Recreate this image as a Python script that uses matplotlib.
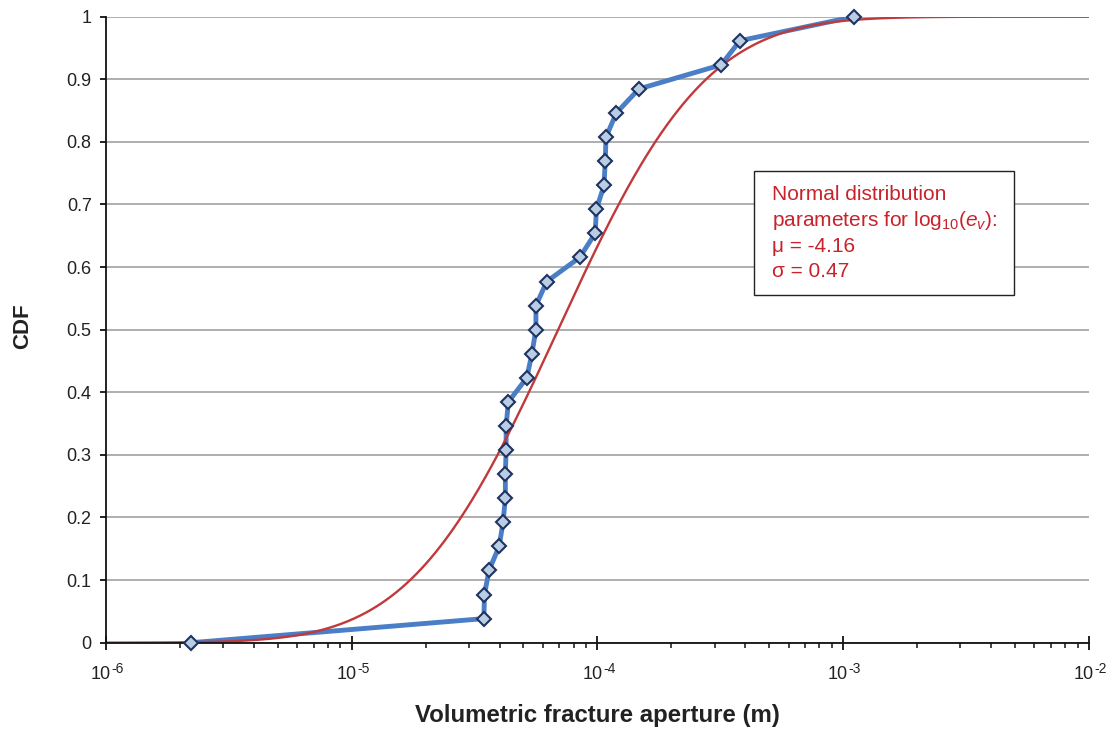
import math
import numpy as np
import matplotlib
matplotlib.use("Agg")
import matplotlib.pyplot as plt
from matplotlib.patches import Rectangle
from matplotlib.transforms import offset_copy
from matplotlib.ticker import FixedLocator, FixedFormatter, LogLocator, NullFormatter

plt.rcParams['font.family'] = ['Liberation Sans', 'DejaVu Sans']
plt.rcParams['mathtext.fontset'] = 'custom'
plt.rcParams['mathtext.rm'] = 'Liberation Sans'
plt.rcParams['mathtext.it'] = 'Liberation Sans:italic'
plt.rcParams['mathtext.bf'] = 'Liberation Sans:bold'
plt.rcParams['mathtext.default'] = 'regular'

# Measured volumetric fracture apertures (m), sorted, with empirical CDF values
aperture = [2.22e-6, 3.45e-5, 3.47e-5, 3.62e-5, 3.98e-5, 4.13e-5, 4.22e-5,
            4.22e-5, 4.25e-5, 4.25e-5, 4.34e-5, 5.16e-5, 5.41e-5, 5.62e-5,
            5.62e-5, 6.22e-5, 8.47e-5, 9.79e-5, 9.91e-5, 1.064e-4, 1.076e-4,
            1.084e-4, 1.194e-4, 1.476e-4, 3.19e-4, 3.80e-4, 1.107e-3]
cdf = [i / 26 for i in range(27)]

# Fitted normal distribution for log10(e_v)
mu = -4.16
sigma = 0.47

y_ticks = [0, 0.1, 0.2, 0.3, 0.4, 0.5, 0.6, 0.7, 0.8, 0.9, 1.0]
y_labels = ["0", "0.1", "0.2", "0.3", "0.4", "0.5", "0.6", "0.7", "0.8", "0.9", "1"]
x_ticks = [1e-6, 1e-5, 1e-4, 1e-3, 1e-2]
x_exponents = ["-6", "-5", "-4", "-3", "-2"]

fig = plt.figure(figsize=(11.15, 7.31), dpi=100)
ax = fig.add_axes([0.0951, 0.1208, 0.8814, 0.8564])

# fitted lognormal CDF across the full axis range
xs = np.logspace(-6, -2, 600)
fit = np.array([0.5 * (1 + math.erf((math.log10(v) - mu) / (sigma * math.sqrt(2)))) for v in xs])

ax.plot(aperture, cdf, color='#4A7EC6', lw=3.5, zorder=3, solid_joinstyle='round')
ax.plot(xs, fit, color='#C0393B', lw=1.7, zorder=4)
ax.plot(aperture, cdf, ls='none', marker='D', ms=7.0, mfc='#B9CDE5', mec='#1F3360',
        mew=1.5, zorder=7, clip_on=False)

ax.set_xscale('log')
ax.set_xlim(1e-6, 1e-2)
ax.set_ylim(0, 1)

ax.xaxis.set_major_locator(FixedLocator(x_ticks))
ax.xaxis.set_major_formatter(NullFormatter())
ax.xaxis.set_minor_locator(LogLocator(base=10, subs=np.arange(2, 10), numticks=20))
ax.xaxis.set_minor_formatter(NullFormatter())
ax.yaxis.set_major_locator(FixedLocator(y_ticks))
ax.yaxis.set_major_formatter(FixedFormatter(y_labels))

ax.tick_params(axis='x', which='major', direction='inout', length=9.4, width=1.3,
               colors='#111111')
ax.tick_params(axis='x', which='minor', direction='out', length=3.6, width=1.1,
               colors='#111111')
ax.tick_params(axis='y', which='major', direction='out', length=4.3, width=1.3,
               labelsize=13, pad=6.0, colors='#111111', labelcolor='#222222')

# power-of-ten tick labels: base plus raised exponent
base_tr = offset_copy(ax.get_xaxis_transform(), fig=fig, x=5, y=-36.6, units='dots')
exp_tr = offset_copy(ax.get_xaxis_transform(), fig=fig, x=5.5, y=-30.0, units='dots')
for xt, ex in zip(x_ticks, x_exponents):
    ax.text(xt, 0, "10", transform=base_tr, ha='right', va='baseline',
            fontsize=13, color='#222222', clip_on=False)
    ax.text(xt, 0, ex, transform=exp_tr, ha='left', va='baseline',
            fontsize=10, color='#222222', clip_on=False)

for s in ['top', 'right']:
    ax.spines[s].set_visible(False)
for s in ['left', 'bottom']:
    ax.spines[s].set_linewidth(1.3)
    ax.spines[s].set_color('#111111')
    ax.spines[s].set_zorder(6)

ax.yaxis.grid(True, color='#999999', lw=1.1, zorder=0)
ax.set_axisbelow(True)

ax.set_xlabel("Volumetric fracture aperture (m)", fontsize=17.3, fontweight='bold',
              color='#222222')
ax.xaxis.label.set_va('baseline')
ax.xaxis.set_label_coords(0.5, -0.1262)
ax.set_ylabel("CDF", fontsize=16, fontweight='bold', color='#222222')
ax.yaxis.label.set_va('baseline')
ax.yaxis.set_label_coords(-0.0791, 0.505)

# parameter annotation box
box = Rectangle((0.6593, 0.5559), 0.2646, 0.1976, transform=ax.transAxes,
                facecolor='white', edgecolor='#222222', lw=1.0, zorder=8)
ax.add_patch(box)
red = '#C8232C'
lines = ["Normal distribution",
         r"parameters for log$_{10}$($\mathit{e}_{\mathit{v}}$):",
         "\u03bc = -4.16",
         "\u03c3 = 0.47"]
ys = [0.7072, 0.6656, 0.6246, 0.5837]
for t, yy in zip(lines, ys):
    ax.text(0.6773, yy, t, transform=ax.transAxes, fontsize=15, color=red,
            va='baseline', ha='left', zorder=9)

fig.savefig("out.png", dpi=100)
